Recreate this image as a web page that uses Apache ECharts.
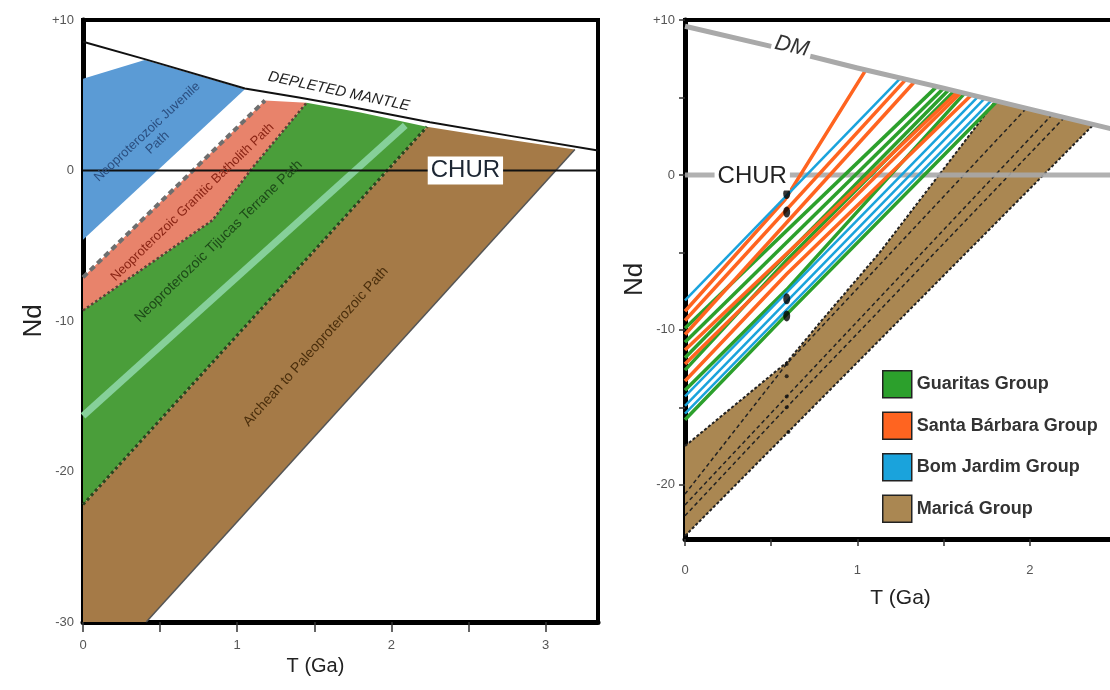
<!DOCTYPE html>
<html>
<head>
<meta charset="utf-8">
<script src="https://cdn.jsdelivr.net/npm/echarts@6/dist/echarts.min.js"></script>
<style>
  html, body { margin: 0; padding: 0; background: #fff; }
  #chart { width: 1110px; height: 690px; }
</style>
</head>
<body>
<div id="chart"></div>
<script>
// ---- left panel: Nd evolution paths (T in Ga, eNd) ----
var leftDM = [[0, 8.55], [0.4, 7.4], [1.05, 5.45], [1.4, 4.85], [1.7, 4.3], [2.25, 3.2], [2.8, 2.25], [3.34, 1.33]];
var leftCHUR = [[0, 0], [3.34, 0]];
var juvenilePath = [[0, 6.1], [0.4, 7.35], [1.05, 5.4], [0, -4.6]];
var batholithPath = [[0, -7.1], [1.18, 4.65], [1.45, 4.5], [1.10, 0.2], [0.84, -3.3], [0, -9.3]];
var batholithTop = [[0, -7.1], [1.18, 4.65]];
var batholithBase = [[0, -9.3], [0.84, -3.3], [1.10, 0.2], [1.45, 4.5]];
var tijucasPath = [[0, -9.3], [0.84, -3.3], [1.10, 0.2], [1.45, 4.5], [1.8, 3.85], [2.23, 2.9], [0, -22.2]];
var tijucasAxis = [[0, -16.3], [2.09, 3.0]];
var tijucasBase = [[0, -22.2], [2.23, 2.9]];
var archeanPath = [[0, -22.2], [2.23, 2.9], [2.7, 2.15], [3.19, 1.4], [0.41, -30], [0, -30]];
var archeanEdge = [[3.19, 1.4], [0.41, -30]];
var leftXTicks = [0, 0.5, 1, 1.5, 2, 2.5, 3];
var leftXLabels = [0, 1, 2, 3];

// ---- right panel: samples ----
var rightDM = [[0, 9.6], [0.5, 8.3], [1, 6.9], [1.5, 5.6], [2, 4.25], [2.5, 2.9]];
var rightCHUR = [[0, 0], [2.5, 0]];
var maricaField = [[0, -17.5], [0.59, -12.1], [0.8, -9.3], [1.13, -5.0], [1.80, 4.75], [2.0, 4.25], [2.37, 3.25], [0, -23.3]];
var maricaUpper = [[0, -17.5], [0.59, -12.1], [0.8, -9.3], [1.13, -5.0], [1.80, 4.75]];
var maricaLower = [[0, -23.3], [2.37, 3.25]];
var maricaLines = [
  [[0, -20.6], [0.59, -12.2], [1.98, 4.3]],
  [[0, -21.3], [0.59, -14.3], [2.13, 3.9]],
  [[0, -22.0], [0.59, -15.0], [2.2, 3.7]]
];
var guaritasLines = [
  [[0, -9.9], [1.46, 5.7]],
  [[0, -10.8], [1.50, 5.6]],
  [[0, -11.8], [1.53, 5.5]],
  [[0, -12.6], [0.59, -5.5], [1.56, 5.4]],
  [[0, -13.9], [0.59, -7.4], [1.62, 5.25]],
  [[0, -15.8], [0.59, -9.0], [1.81, 4.75]]
];
var santaBarbaraLines = [
  [[0, -8.8], [0.58, -1.6], [1.05, 6.8]],
  [[0, -9.4], [1.28, 6.15]],
  [[0, -10.3], [1.33, 6.0]],
  [[0, -11.3], [1.58, 5.35]],
  [[0, -12.2], [1.60, 5.3]],
  [[0, -13.3], [0.59, -6.4], [1.66, 5.15]]
];
var bomJardimLines = [
  [[0, -8.1], [1.25, 6.25]],
  [[0, -14.3], [1.70, 5.05]],
  [[0, -14.9], [1.74, 4.95]],
  [[0, -15.4], [1.78, 4.85]]
];
var sampleDots = [[0.59, -1.2], [0.59, -2.4], [0.59, -8.0], [0.59, -9.1]];
var maricaDots = [[0.59, -12.2], [0.59, -13.0], [0.59, -14.3], [0.59, -15.0], [0.6, -16.6]];
var rightXTicks = [0, 0.5, 1, 1.5, 2];
var rightXLabels = [0, 1, 2];
var rightYTicks = [10, 5, 0, -5, -10, -15, -20];
var rightYLabels = [10, 0, -10, -20];

// text annotations: [T, eNd] anchor, text
var leftNotes = [
  { at: [0.45, 2.2], text: 'Neoproterozoic Juvenile\nPath', rot: 43, color: '#2b4f80', size: 13 },
  { at: [0.71, -2.1], text: 'Neoproterozoic Granitic Batholith Path', rot: 44, color: '#8a2414', size: 13 },
  { at: [0.88, -4.7], text: 'Neoproterozoic Tijucas Terrane Path', rot: 44, color: '#1d4a18', size: 14 },
  { at: [1.51, -11.7], text: 'Archean to Paleoproterozoic Path', rot: 48, color: '#4a2e0c', size: 14 },
  { at: [1.66, 5.25], text: 'DEPLETED MANTLE', rot: -12, color: '#222', size: 15, italic: true },
  { at: [2.48, 0], text: 'CHUR', rot: 0, color: '#1c2633', size: 24, box: true }
];
var rightNotes = [
  { at: [0.62, 8.3], text: 'DM', rot: -13, color: '#333', size: 22, italic: true, box: true },
  { at: [0.39, -0.1], text: 'CHUR', rot: 0, color: '#222', size: 24, box: true }
];

var FONT = '"Liberation Sans", Arial, sans-serif';

function polygon(name, gi, pts, color, z) {
  return {
    type: 'custom', name: name, xAxisIndex: gi, yAxisIndex: gi, z: z, silent: true,
    data: [[pts[0][0], pts[0][1]]],
    renderItem: function (params, api) {
      return {
        type: 'polygon',
        shape: { points: pts.map(function (p) { return api.coord(p); }) },
        style: { fill: color }
      };
    }
  };
}

function paths(name, gi, list, style, z) {
  return {
    type: 'lines', name: name, coordinateSystem: 'cartesian2d',
    xAxisIndex: gi, yAxisIndex: gi, polyline: true, z: z, silent: true,
    lineStyle: style,
    data: list.map(function (c) { return { coords: c }; })
  };
}

function notes(gi, list) {
  return {
    type: 'custom', xAxisIndex: gi, yAxisIndex: gi, z: 20, silent: true,
    data: list.map(function (n) { return n.at; }),
    renderItem: function (params, api) {
      var n = list[params.dataIndex];
      var p = api.coord([api.value(0), api.value(1)]);
      return {
        type: 'text', x: p[0], y: p[1], rotation: n.rot * Math.PI / 180,
        style: {
          text: n.text, fill: n.color,
          font: (n.italic ? 'italic ' : '') + n.size + 'px ' + FONT,
          align: 'center', verticalAlign: 'middle',
          textAlign: 'center', textVerticalAlign: 'middle',
          lineHeight: n.size + 2,
          backgroundColor: n.box ? '#fff' : null,
          padding: n.box ? [1, 3] : 0
        }
      };
    }
  };
}

function numLabel(v) { return v > 0 ? '+' + v : String(v); }

var GREEN = '#2ca02c', ORANGE = '#ff6420', BLUE = '#1aa3dc', BROWN = '#aa8752';

var option = {
  animation: false,
  textStyle: { fontFamily: FONT },
  grid: [
    { left: 83, top: 20, width: 515, height: 602, outerBoundsMode: 'none', containLabel: false,
      show: true, borderColor: '#000', borderWidth: 4, backgroundColor: 'transparent' },
    { left: 685, top: 20, width: 431, height: 519, outerBoundsMode: 'none', containLabel: false,
      show: true, borderColor: '#000', borderWidth: 4, backgroundColor: 'transparent' }
  ],
  legend: {
    orient: 'vertical', left: 882, top: 370, padding: 0,
    itemWidth: 29, itemHeight: 27, itemGap: 13,
    selectedMode: false,
    textStyle: { fontSize: 18, fontWeight: 'bold', color: '#333' },
    data: [
      { name: 'Guaritas Group', icon: 'rect', itemStyle: { color: GREEN, borderColor: '#222', borderWidth: 1.5 } },
      { name: 'Santa Bárbara Group', icon: 'rect', itemStyle: { color: ORANGE, borderColor: '#222', borderWidth: 1.5 } },
      { name: 'Bom Jardim Group', icon: 'rect', itemStyle: { color: BLUE, borderColor: '#222', borderWidth: 1.5 } },
      { name: 'Maricá Group', icon: 'rect', itemStyle: { color: BROWN, borderColor: '#222', borderWidth: 1.5 } }
    ]
  },
  xAxis: [
    {
      gridIndex: 0, type: 'value', min: 0, max: 3.34,
      name: 'T (Ga)', nameLocation: 'middle', nameGap: 34,
      nameTextStyle: { fontSize: 20, color: '#222', padding: [0, 50, 0, 0] },
      axisLine: { onZero: false, lineStyle: { color: '#000', width: 5 } },
      axisTick: { length: 10, customValues: leftXTicks, lineStyle: { color: '#333', width: 1.5 } },
      axisLabel: { customValues: leftXLabels, color: '#555', fontSize: 13, margin: 17 },
      splitLine: { show: false }
    },
    {
      gridIndex: 1, type: 'value', min: 0, max: 2.5,
      name: 'T (Ga)', nameLocation: 'middle', nameGap: 49,
      nameTextStyle: { fontSize: 21, color: '#222' },
      axisLine: { onZero: false, lineStyle: { color: '#000', width: 5 } },
      axisTick: { length: 7, customValues: rightXTicks, lineStyle: { color: '#333', width: 1.5 } },
      axisLabel: { customValues: rightXLabels, color: '#555', fontSize: 13, margin: 25 },
      splitLine: { show: false }
    }
  ],
  yAxis: [
    {
      gridIndex: 0, type: 'value', min: -30, max: 10, interval: 10,
      name: 'Nd', nameLocation: 'middle', nameGap: 36, nameRotate: 90,
      nameTextStyle: { fontSize: 26, color: '#222' },
      axisLine: { onZero: false, lineStyle: { color: '#000', width: 5 } },
      axisTick: { inside: true, length: 14, lineStyle: { color: '#000', width: 2 } },
      axisLabel: { formatter: numLabel, color: '#555', fontSize: 13, margin: 9 },
      splitLine: { show: false }
    },
    {
      gridIndex: 1, type: 'value', min: -23.5, max: 10,
      name: 'Nd', nameLocation: 'middle', nameGap: 37, nameRotate: 90,
      nameTextStyle: { fontSize: 26, color: '#222' },
      axisLine: { onZero: false, lineStyle: { color: '#000', width: 5 } },
      axisTick: { length: 6, customValues: rightYTicks, lineStyle: { color: '#333', width: 1.5 } },
      axisLabel: { customValues: rightYLabels, formatter: numLabel, color: '#555', fontSize: 13, margin: 10 },
      splitLine: { show: false }
    }
  ],
  series: [
    // left panel fields
    polygon('juvenile', 0, juvenilePath, '#5b9bd5', 1),
    polygon('batholith', 0, batholithPath, '#e8836b', 1),
    polygon('tijucas', 0, tijucasPath, '#4a9e3a', 1),
    polygon('archean', 0, archeanPath, '#a57a47', 1),
    paths('tijucasAxis', 0, [tijucasAxis], { color: '#86d09a', width: 7, opacity: 1 }, 2),
    paths('batholithTop', 0, [batholithTop], { color: '#6e6e6e', width: 4, type: [6, 4], opacity: 1 }, 3),
    paths('batholithBase', 0, [batholithBase], { color: '#5a4036', width: 2.5, type: 'dotted', opacity: 1 }, 3),
    paths('tijucasBase', 0, [tijucasBase], { color: '#2a4420', width: 3, type: 'dotted', opacity: 1 }, 3),
    paths('archeanEdge', 0, [archeanEdge], { color: '#555', width: 1.5, opacity: 1 }, 3),
    paths('leftDM', 0, [leftDM], { color: '#111', width: 2, opacity: 1 }, 4),
    paths('leftCHUR', 0, [leftCHUR], { color: '#111', width: 2, opacity: 1 }, 4),
    notes(0, leftNotes),

    // right panel
    polygon('Maricá Group', 1, maricaField, BROWN, 1),
    paths('maricaLines', 1, maricaLines, { color: '#222', width: 1.5, type: [4, 3], opacity: 1 }, 2),
    paths('maricaEdge', 1, [maricaUpper, maricaLower], { color: '#222', width: 2, type: [3, 2], opacity: 1 }, 2),
    paths('rightCHUR', 1, [rightCHUR], { color: '#a9a9a9', width: 5, opacity: 0.9 }, 3),
    paths('Guaritas Group', 1, guaritasLines, { color: GREEN, width: 3.5, opacity: 1 }, 5),
    paths('Santa Bárbara Group', 1, santaBarbaraLines, { color: ORANGE, width: 3.5, opacity: 1 }, 5),
    paths('Bom Jardim Group', 1, bomJardimLines, { color: BLUE, width: 2.5, opacity: 1 }, 5),
    paths('rightDM', 1, [rightDM], { color: '#a9a9a9', width: 5, opacity: 1 }, 6),
    {
      type: 'scatter', xAxisIndex: 1, yAxisIndex: 1, z: 7, silent: true,
      symbol: 'circle', symbolSize: [7, 11], itemStyle: { color: '#000' },
      data: sampleDots
    },
    {
      type: 'scatter', xAxisIndex: 1, yAxisIndex: 1, z: 7, silent: true,
      symbol: 'circle', symbolSize: 4, itemStyle: { color: '#111' },
      data: maricaDots
    },
    notes(1, rightNotes)
  ]
};

var chart = echarts.init(document.getElementById('chart'));
chart.setOption(option);
</script>
</body>
</html>
